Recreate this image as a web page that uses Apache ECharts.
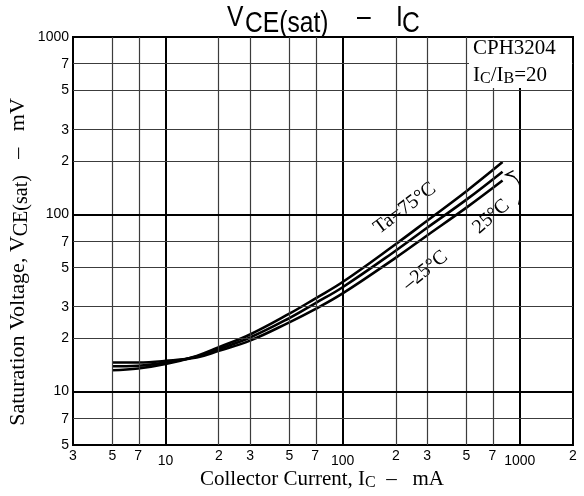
<!DOCTYPE html>
<html>
<head>
<meta charset="utf-8">
<script src="https://cdn.jsdelivr.net/npm/echarts@6/dist/echarts.min.js"></script>
<style>
html, body { margin: 0; padding: 0; background: #fff; }
#chart { width: 584px; height: 496px; }
</style>
</head>
<body>
<div id="chart"></div>
<script>
// collector current (mA) and VCE(sat) (mV), Ic/Ib = 20
var current = [5, 7, 10, 15, 20, 30, 50, 70, 100, 200, 300, 500, 800];
var vce75 = [13.2, 13.5, 14.3, 15.9, 17.8, 21.0, 27.5, 33.5, 41.5, 68, 92, 135, 197];
var vce25 = [13.9, 14.0, 14.6, 15.8, 17.4, 20.2, 26.0, 31.5, 38.8, 62.5, 84, 121, 174];
var vceM25 = [14.6, 14.6, 14.9, 15.6, 17.0, 19.4, 24.6, 29.2, 35.8, 57, 76, 109, 155];

var xTicks = [3, 5, 7, 10, 20, 30, 50, 70, 100, 200, 300, 500, 700, 1000, 2000];
var xTickText = ['3', '5', '7', '10', '2', '3', '5', '7', '100', '2', '3', '5', '7', '1000', '2'];
var yTicks = [5, 7, 10, 20, 30, 50, 70, 100, 200, 300, 500, 700, 1000];
var yTickText = ['5', '7', '10', '2', '3', '5', '7', '100', '2', '3', '5', '7', '1000'];
var decades = [10, 100, 1000];

var SERIF = '"Liberation Serif", "Times New Roman", serif';
var SANS = '"Liberation Sans", Arial, sans-serif';

var lg = Math.log10;
var chart = echarts.init(document.getElementById('chart'));

function pts(vals) {
    return current.map(function (c, i) { return [lg(c), lg(vals[i])]; });
}
function tickText(ticks, texts, v) {
    for (var i = 0; i < ticks.length; i++) {
        if (Math.abs(lg(ticks[i]) - v) < 1e-6) return texts[i];
    }
    return '';
}

// grid lines, decades drawn heavier
var gridLines = [];
xTicks.slice(1, -1).forEach(function (t) {
    var dec = decades.indexOf(t) >= 0;
    gridLines.push({xAxis: lg(t), lineStyle: {color: dec ? '#000' : '#3c3c3c', width: dec ? 2 : 1.2, type: 'solid'}});
});
yTicks.slice(1, -1).forEach(function (t) {
    var dec = decades.indexOf(t) >= 0;
    gridLines.push({yAxis: lg(t), lineStyle: {color: dec ? '#000' : '#3c3c3c', width: dec ? 2 : 1.2, type: 'solid'}});
});

var curveStyle = {color: '#000', width: 2.6};

var option = {
    animation: false,
    backgroundColor: '#fff',
    grid: {left: 73, right: 11, top: 37, bottom: 51, show: true, borderColor: '#000', borderWidth: 2, backgroundColor: '#fff'},
    xAxis: {
        type: 'value',
        min: lg(3),
        max: lg(2000),
        axisLine: {show: false},
        axisTick: {show: false},
        splitLine: {show: false},
        axisLabel: {
            customValues: xTicks.map(lg),
            margin: 4,
            fontFamily: SANS,
            fontSize: 14,
            color: '#000',
            showMinLabel: true,
            showMaxLabel: true,
            formatter: function (v) {
                var s = tickText(xTicks, xTickText, v);
                return (s.length > 1) ? '{d|' + s + '}' : s;
            },
            rich: {d: {fontFamily: SANS, fontSize: 14, color: '#000', padding: [5, 0, 0, 0]}}
        }
    },
    yAxis: {
        type: 'value',
        min: lg(5),
        max: lg(1000),
        axisLine: {show: false},
        axisTick: {show: false},
        splitLine: {show: false},
        axisLabel: {
            customValues: yTicks.map(lg),
            margin: 4,
            fontFamily: SANS,
            fontSize: 14,
            color: '#000',
            showMinLabel: true,
            showMaxLabel: true,
            formatter: function (v) { return tickText(yTicks, yTickText, v); }
        }
    },
    series: [
        {
            name: 'grid', type: 'line', data: [], z: 1, silent: true,
            markLine: {silent: true, symbol: ['none', 'none'], label: {show: false}, animation: false, data: gridLines}
        },
        {name: 'Ta=75°C', type: 'line', data: pts(vce75), smooth: 0.4, showSymbol: false, lineStyle: curveStyle, z: 3},
        {name: '25°C', type: 'line', data: pts(vce25), smooth: 0.4, showSymbol: false, lineStyle: curveStyle, z: 3},
        {name: '–25°C', type: 'line', data: pts(vceM25), smooth: 0.4, showSymbol: false, lineStyle: curveStyle, z: 3}
    ]
};
chart.setOption(option);

function px(i, v) { return chart.convertToPixel({gridIndex: 0}, [lg(i), lg(v)]); }
function curveLabel(text, at, dx, dy, deg) {
    return {
        type: 'text', x: at[0] + dx, y: at[1] + dy, rotation: deg * Math.PI / 180, z: 2,
        style: {text: text, fontFamily: SERIF, fontSize: 20, fill: '#000', align: 'center', verticalAlign: 'middle',
                backgroundColor: '#fff', padding: [0, 2]}
    };
}
var tip = px(current[current.length - 1], vce25[vce25.length - 1]);
tip = [tip[0] + 3, tip[1] + 3];

var graphics = [
    // title
    {type: 'text', x: 227, y: 18, scaleX: 0.85, z: 60, style: {text: 'V', fontFamily: SANS, fontSize: 29, fill: '#000', verticalAlign: 'middle'}},
    {type: 'text', x: 245, y: 23.5, scaleX: 0.85, z: 60, style: {text: 'CE(sat)', fontFamily: SANS, fontSize: 29, fill: '#000', verticalAlign: 'middle'}},
    {type: 'text', x: 357, y: 18, scaleX: 0.85, z: 60, style: {text: '–', fontFamily: SANS, fontSize: 29, fill: '#000', verticalAlign: 'middle'}},
    {type: 'text', x: 396, y: 18, scaleX: 0.85, z: 60, style: {text: 'I', fontFamily: SANS, fontSize: 29, fill: '#000', verticalAlign: 'middle'}},
    {type: 'text', x: 402, y: 23.5, scaleX: 0.85, z: 60, style: {text: 'C', fontFamily: SANS, fontSize: 29, fill: '#000', verticalAlign: 'middle'}},
    // part-number box
    {type: 'rect', shape: {x: 469, y: 38, width: 103, height: 50}, z: 40, style: {fill: '#fff'}},
    {type: 'text', x: 473, y: 48, z: 41, style: {text: 'CPH3204', fontFamily: SERIF, fontSize: 21, fill: '#000', verticalAlign: 'middle'}},
    {type: 'text', x: 473, y: 75, z: 41, style: {
        text: 'I{s|C}/I{s|B}=20', fontFamily: SERIF, fontSize: 21, fill: '#000', verticalAlign: 'middle',
        rich: {s: {fontFamily: SERIF, fontSize: 16, fill: '#000', padding: [7, 0, 0, 0]}}}},
    // curve labels
    curveLabel('Ta=75°C', px(240, 100), -5, -6, 37),
    curveLabel('–25°C', px(275, 52), 5, 6, 39),
    curveLabel('25°C', px(690, 97), 0, 0, 41),
    // pointer from the 25°C label to its curve
    {type: 'bezierCurve', z: 55, shape: {x1: tip[0] + 1, y1: tip[1], cpx1: tip[0] + 20, cpy1: tip[1] + 2, x2: tip[0] + 13, y2: tip[1] + 30},
        style: {stroke: '#000', lineWidth: 1.2, fill: null}},
    {type: 'polyline', z: 55, shape: {points: [[tip[0] + 8, tip[1] - 4], [tip[0], tip[1]], [tip[0] + 9, tip[1] + 2]]},
        style: {stroke: '#000', lineWidth: 1.2, fill: null}},
    // axis names
    {type: 'text', x: 322, y: 479, z: 60, style: {
        text: 'Collector Current, I{s|C}  –   mA', fontFamily: SERIF, fontSize: 21, fill: '#000', align: 'center', verticalAlign: 'middle',
        rich: {s: {fontFamily: SERIF, fontSize: 16, fill: '#000', padding: [7, 0, 0, 0]}}}},
    {type: 'text', x: 18, y: 262, rotation: Math.PI / 2, z: 60, style: {
        text: 'Saturation Voltage, V{s|CE(sat)}   –   mV', fontFamily: SERIF, fontSize: 22, fill: '#000', align: 'center', verticalAlign: 'middle',
        rich: {s: {fontFamily: SERIF, fontSize: 20, fill: '#000', padding: [7, 0, 0, 0]}}}}
];
chart.setOption({graphic: graphics});
</script>
</body>
</html>
